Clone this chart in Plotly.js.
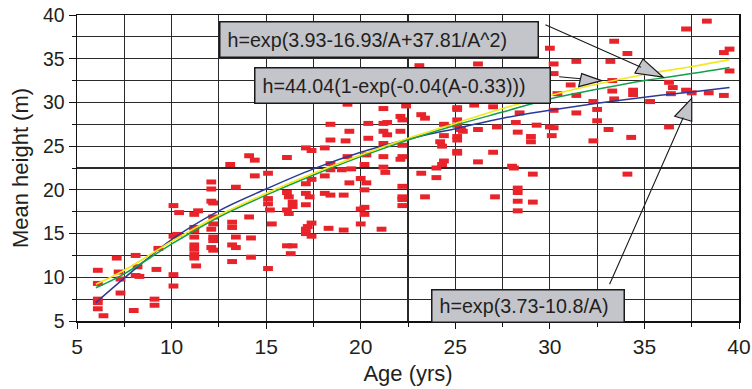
<!DOCTYPE html>
<html><head><meta charset="utf-8">
<script src="https://cdn.plot.ly/plotly-3.0.1.min.js"></script>
<style>html,body{margin:0;padding:0;background:#fff}#chart{width:752px;height:389px}</style>
</head><body><div id="chart"></div>
<script>
// Observed stands: age (yrs) and mean height (m)
const ageObs = [6.1,6.1,6.1,6.1,6.1,6.4,7.1,7.2,7.3,7.3,8.1,8.2,8.1,8.3,8.0,9.2,9.1,9.1,9.3,
10.1,10.4,10.1,10.3,10.1,10.1,11.2,11.4,11.2,11.2,11.2,11.2,11.2,11.2,11.2,11.3,
12.1,12.1,12.1,12.2,12.2,12.2,12.1,12.2,12.2,12.1,12.2,13.1,13.4,13.2,13.2,13.4,13.2,13.4,13.2,
14.1,14.4,14.4,14.1,14.2,14.2,15.1,15.1,15.1,15.2,15.3,15.1,
16.1,16.1,16.2,16.4,16.4,16.1,16.2,16.1,16.4,16.3,
17.1,17.4,17.1,17.4,17.1,17.3,17.1,17.1,17.1,17.2,17.4,17.4,
18.1,18.1,18.4,18.4,18.4,18.4,18.1,18.4,18.3,19.1,19.1,19.4,19.3,19.4,19.2,19.3,19.5,19.0,
20.0,20.0,20.2,20.2,20.4,20.4,20.3,20.2,20.0,20.3,20.2,
21.2,21.2,21.4,21.2,21.4,21.2,21.2,21.2,21.3,21.1,
22.1,22.2,22.1,22.2,22.2,22.1,22.2,22.2,22.2,22.2,22.4,
23.1,23.2,23.4,23.2,23.4,24.0,24.0,24.3,24.4,24.4,24.4,24.2,24.3,
25.1,25.1,25.1,25.1,25.3,25.1,25.1,25.1,25.1,25.4,26.2,26.0,26.2,26.2,
27.0,27.2,27.0,27.1,28.4,28.2,28.3,28.0,28.1,28.3,28.3,28.3,28.3,
29.0,29.0,29.3,29.1,29.1,30.0,30.2,30.2,30.4,30.2,30.0,30.2,30.1,
31.1,31.4,31.4,31.4,32.3,32.5,32.5,32.3,33.4,33.2,33.3,33.3,33.4,33.1,
34.1,34.4,34.4,34.3,34.1,35.3,36.3,36.5,36.4,36.3,37.2,37.2,37.5,38.3,38.4,39.2,39.5,39.5,39.2];
const heightObs = [10.8,9.3,7.5,7.1,6.4,5.6,12.2,10.6,9.8,8.2,12.5,11.2,10.2,10.1,6.2,10.9,7.5,6.8,13.3,
18.2,17.4,14.7,14.9,10.3,9.0,17.2,17.6,15.7,15.3,14.6,13.7,13.2,12.6,12.2,11.3,
20.9,20.1,18.7,18.5,16.9,16.1,15.5,14.6,14.2,13.4,13.1,22.9,20.3,16.3,15.7,14.6,13.7,13.4,11.8,
23.9,23.4,21.6,16.9,14.5,12.3,21.9,19.0,18.4,17.7,16.1,11.0,
23.7,19.7,19.2,18.6,18.1,17.7,17.3,13.6,13.6,12.7,
24.8,24.5,20.7,21.2,19.6,19.2,18.3,15.5,15.0,15.8,16.2,14.7,
24.8,21.6,27.5,25.7,23.0,22.3,19.6,19.4,15.6,15.4,19.4,20.8,29.8,26.7,25.6,23.8,22.4,22.3,
16.1,17.8,18.0,17.2,27.6,25.9,24.0,22.9,21.3,20.8,20.0,
29.3,27.6,27.7,26.7,26.3,25.3,23.8,22.6,22.0,15.5,
28.4,28.0,26.7,25.1,23.8,23.5,20.4,19.2,18.9,18.2,29.6,
34.2,28.6,28.2,21.9,19.2,21.4,22.5,22.9,23.3,27.5,26.2,25.5,25.0,
29.4,29.2,28.0,27.4,26.9,26.1,25.7,24.4,24.2,26.7,34.4,29.7,26.9,23.2,
29.5,27.2,24.3,19.2,28.8,27.7,26.6,22.7,22.5,20.2,19.7,18.7,17.6,
26.1,25.5,27.4,21.8,18.6,36.2,34.4,33.3,31.0,29.1,27.2,27.1,26.2,
32.0,34.7,30.8,28.8,30.1,29.2,27.9,25.6,37.0,34.7,32.5,31.3,30.4,26.9,
35.6,31.4,30.9,26.0,21.8,30.1,32.3,31.7,31.0,27.2,38.4,31.4,31.1,39.3,31.1,35.7,36.1,33.6,30.8];

// Fitted curves
const curveAge = [6,7.5,10,12.5,15,17.5,20,22.5,25,27.5,30,32.5,35,37.5,39.5];
const blueFit   = [7.1,9.9,14.3,17.6,20.1,22.4,24.3,25.8,27.0,28.2,29.1,29.9,30.6,31.2,31.7];
const yellowFit = [9.2,10.8,14.1,17.1,19.6,21.9,24.0,25.9,27.6,29.3,30.8,32.1,33.2,34.1,34.9];
const greenFit  = [8.8,10.4,13.8,16.9,19.4,21.7,23.8,25.7,27.4,28.9,30.4,31.5,32.5,33.3,34.0];

const labelYellow = 'h=exp(3.93-16.93/A+37.81/A^2)';
const labelGreen  = 'h=44.04(1-exp(-0.04(A-0.33)))';
const labelBlue   = 'h=exp(3.73-10.8/A)';

const FONT = 'Liberation Sans, Arial, Helvetica, sans-serif';
const TXT = '#231f20';
const GRID = '#2a2a2a';

const traces = [
  {x: ageObs, y: heightObs, mode: 'markers', type: 'scatter',
   marker: {symbol: 'line-ew', size: 7, color: '#e8232a', line: {color: '#e8232a', width: 5}},
   hoverinfo: 'x+y'},
  {x: curveAge, y: blueFit, mode: 'lines', line: {color: '#2b3a99', width: 1.5, shape: 'spline'}},
  {x: curveAge, y: greenFit, mode: 'lines', line: {color: '#12a04a', width: 1.5, shape: 'spline'}},
  {x: curveAge, y: yellowFit, mode: 'lines', line: {color: '#f4e81a', width: 1.6, shape: 'spline'}}
];

function box(text, x, y, w, h) {
  return {x: x, y: y, xref: 'x', yref: 'y', text: '\u2009' + text, showarrow: false,
    xanchor: 'center', yanchor: 'middle', align: 'left', width: w, height: h,
    bgcolor: '#c3c5cb', bordercolor: '#1a1a1a', borderwidth: 1.5, borderpad: 3,
    font: {family: FONT, size: 19.7, color: TXT}};
}
function arrow(x, y, ax, ay, so) {
  return {x: x, y: y, xref: 'x', yref: 'y', text: ' ', showarrow: true, arrowhead: 0,
    arrowwidth: 1.1, arrowcolor: '#1a1a1a', ax: ax, ay: ay, standoff: so, font: {size: 1}};
}
function head(x, y, path) {
  return {type: 'path', xref: 'x', yref: 'y', xsizemode: 'pixel', ysizemode: 'pixel',
    xanchor: x, yanchor: y, path: path, fillcolor: '#c3c5cb',
    line: {color: '#1a1a1a', width: 1.2}, layer: 'above'};
}

const layout = {
  width: 752, height: 389,
  margin: {l: 77, r: 13, t: 15, b: 68},
  paper_bgcolor: '#fff', plot_bgcolor: '#fff',
  showlegend: false,
  font: {family: FONT, color: TXT},
  xaxis: {range: [5, 40], dtick: 5, tick0: 5, ticks: 'outside', ticklen: 6, tickcolor: '#111',
    showline: true, linecolor: '#111', linewidth: 1.5, mirror: true,
    showgrid: true, gridcolor: GRID, gridwidth: 1.2, zeroline: false,
    minor: {dtick: 2.5, showgrid: true, gridcolor: GRID, gridwidth: 1.2, ticks: 'outside', ticklen: 4, tickcolor: '#111'},
    tickfont: {family: FONT, size: 21, color: TXT},
    title: {text: 'Age (yrs)', font: {family: FONT, size: 22, color: TXT}, standoff: 9}},
  yaxis: {range: [5, 40], dtick: 5, tick0: 5, ticks: 'outside', ticklen: 7, tickcolor: '#111',
    showline: true, linecolor: '#111', linewidth: 1.5, mirror: true,
    showgrid: true, gridcolor: GRID, gridwidth: 1.2, zeroline: false,
    minor: {dtick: 2.5, showgrid: true, gridcolor: GRID, gridwidth: 1.2, ticks: 'outside', ticklen: 4, tickcolor: '#111'},
    tickfont: {family: FONT, size: 19.5, color: TXT},
    title: {text: 'Mean height (m)', font: {family: FONT, size: 22, color: TXT}, standoff: 8}},
  annotations: [
    arrow(35.98, 32.9, -119, -53, 24),
    arrow(32.74, 32.49, -44, -4, 21),
    arrow(37.5, 30.47, -83, 188, 21),
    box(labelYellow, 20.97, 37.2, 311, 28),
    box(labelGreen, 22.2, 31.88, 288, 28),
    box(labelBlue, 28.84, 6.77, 185, 25)
  ],
  shapes: [
    head(35.98, 32.9, 'M0,0 L-20,18 L-28,4 Z'),
    head(32.74, 32.49, 'M0,0 L-20,7 L-23,-6 Z'),
    head(37.5, 30.47, 'M0,0 L-17,-18 L0,-23 Z')
  ]
};

Plotly.newPlot('chart', traces, layout, {staticPlot: true, displayModeBar: false});
</script></body></html>
